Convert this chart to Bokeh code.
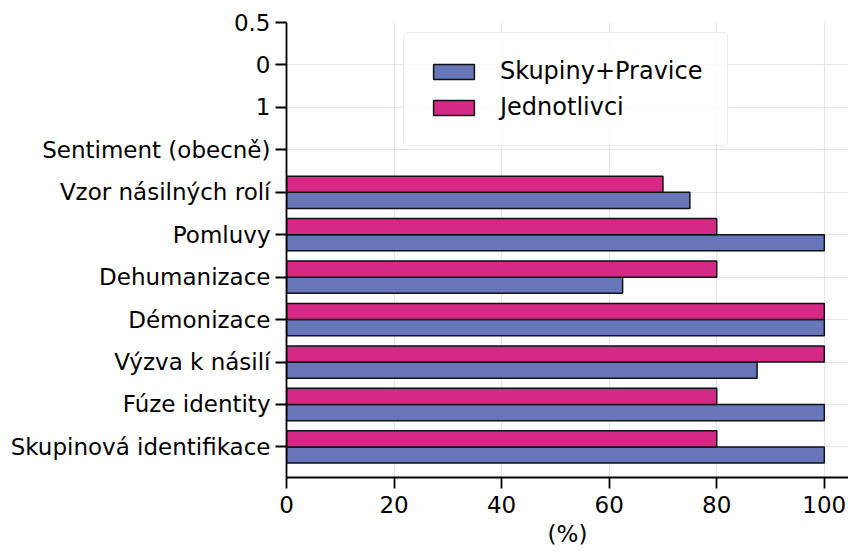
from bokeh.plotting import figure
from bokeh.models import Range1d, FixedTicker, ColumnDataSource, Legend, LegendItem
from bokeh.embed import file_html
from bokeh.resources import INLINE

# Category labels, bottom to top
categories = [
    "Skupinová identifikace",
    "Fúze identity",
    "Výzva k násilí",
    "Démonizace",
    "Dehumanizace",
    "Pomluvy",
    "Vzor násilných rolí",
    "Sentiment (obecně)",
    "1",
    "0",
    "0.5",
]

# Percentages per category (only the first seven categories carry bars)
skupiny_pravice = [100, 100, 87.5, 100, 62.5, 100, 75]
jednotlivci = [80, 80, 100, 100, 80, 80, 70]

series_names = ["Skupiny+Pravice", "Jednotlivci"]
x_ticks = [0, 20, 40, 60, 80, 100]
x_label = "(%)"

BLUE = "#6676b9"
PINK = "#d42a85"
FONT = "DejaVu Sans"
BAR_H = 0.38

idx = list(range(len(skupiny_pravice)))
src_blue = ColumnDataSource(dict(y=[i - BAR_H / 2 for i in idx], right=skupiny_pravice))
src_pink = ColumnDataSource(dict(y=[i + BAR_H / 2 for i in idx], right=jednotlivci))

p = figure(
    width=848, height=554,
    x_range=Range1d(0, 104.5),
    y_range=Range1d(-0.72, len(categories) - 1),
    output_backend="svg", toolbar_location=None,
    min_border_left=286, min_border_right=0,
    min_border_top=22, min_border_bottom=77,
)
p.outline_line_color = None
p.background_fill_color = "white"

r_blue = p.hbar(y="y", right="right", left=0, height=BAR_H, source=src_blue,
                fill_color=BLUE, line_color="#111111", line_width=1.5)
r_pink = p.hbar(y="y", right="right", left=0, height=BAR_H, source=src_pink,
                fill_color=PINK, line_color="#111111", line_width=1.5)

# Axes
p.xaxis.ticker = FixedTicker(ticks=x_ticks)
p.yaxis.ticker = FixedTicker(ticks=list(range(len(categories))))
p.yaxis.major_label_overrides = {i: c for i, c in enumerate(categories)}
p.xaxis.axis_label = x_label

for ax in (p.xaxis, p.yaxis):
    ax.axis_line_color = "black"
    ax.axis_line_width = 1.8
    ax.major_tick_line_color = "black"
    ax.major_tick_line_width = 1.8
    ax.major_tick_out = 11
    ax.major_tick_in = 0
    ax.minor_tick_line_color = None
    ax.major_label_text_font = FONT
    ax.major_label_text_font_size = "23px"
    ax.major_label_text_color = "black"
p.yaxis.major_label_standoff = 5
p.xaxis.major_label_standoff = 7

p.xaxis.axis_label_text_font = FONT
p.xaxis.axis_label_text_font_size = "23px"
p.xaxis.axis_label_text_font_style = "normal"
p.xaxis.axis_label_text_color = "black"
p.xaxis.axis_label_standoff = 5

p.xgrid.grid_line_color = "#e4e4ec"
p.ygrid.grid_line_color = "#e4e4ec"
p.xgrid.grid_line_width = 1.2
p.ygrid.grid_line_width = 1.2

legend = Legend(
    items=[LegendItem(label=series_names[0], renderers=[r_blue]),
           LegendItem(label=series_names[1], renderers=[r_pink])],
    location=(117, 331),
    label_text_font=FONT, label_text_font_size="24px",
    label_text_color="black",
    glyph_width=51, glyph_height=19,
    label_standoff=21, spacing=8, padding=24, margin=0,
    border_line_color="#dcdce4", border_line_width=1.2,
    border_radius=5,
    background_fill_color="white", background_fill_alpha=0.85,
)
p.add_layout(legend, "center")

open("out.html", "w").write(file_html(p, INLINE))
